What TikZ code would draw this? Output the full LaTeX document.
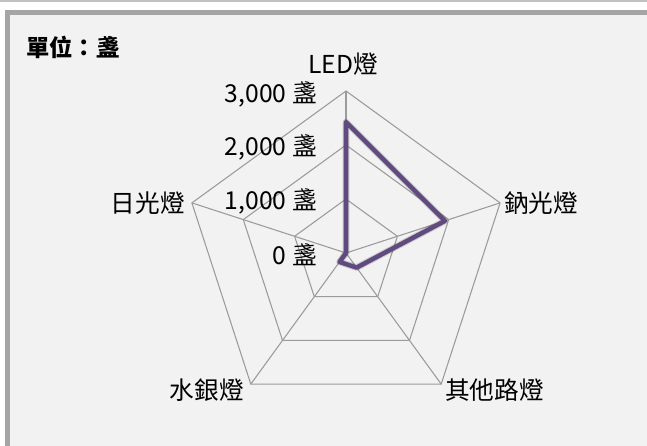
\documentclass[tikz,border=0pt]{standalone}
\usepackage{fontspec}
\setmainfont{Noto Sans CJK TC}
\usepackage{xcolor}

\begin{document}
\begin{tikzpicture}[x=0.75pt,y=0.75pt,yscale=-1,xscale=1,
  grid/.style={color={rgb, 255:red, 155; green, 155; blue, 155 }, line width=0.8pt},
  series/.style={color={rgb, 255:red, 96; green, 74; blue, 128 }, line width=3.4pt, line join=round},
  shade/.style={color=black, opacity=0.15, line width=5pt, line join=round},
  lbl/.style={inner sep=0.75pt, font=\fontsize{18.5}{22}\selectfont}]
\useasboundingbox (0,0) rectangle (647,446);

% Frame
\fill [white] (0,0) rectangle (647,446);
\fill [color={rgb, 255:red, 192; green, 192; blue, 192 }] (0,0) rectangle (647,2);
\fill [color={rgb, 255:red, 242; green, 242; blue, 242 }] (5,10) rectangle (647,446);
\fill [color={rgb, 255:red, 165; green, 165; blue, 165 }] (5,10) rectangle (647,15);
\fill [color={rgb, 255:red, 165; green, 165; blue, 165 }] (5,10) rectangle (10,446);

% Ring vertices (center 346,253)
\coordinate (c) at (346,253);
\coordinate (t1) at (346,199);   \coordinate (r1) at (397.4,236.3); \coordinate (br1) at (377.7,296.7); \coordinate (bl1) at (314.3,296.7); \coordinate (l1) at (294.6,236.3);
\coordinate (t2) at (346,145);   \coordinate (r2) at (448.7,219.6); \coordinate (br2) at (409.5,340.4); \coordinate (bl2) at (282.5,340.4); \coordinate (l2) at (243.3,219.6);
\coordinate (t3) at (346,91);    \coordinate (r3) at (500.1,202.9); \coordinate (br3) at (441.2,384.1); \coordinate (bl3) at (250.8,384.1); \coordinate (l3) at (191.9,202.9);

% Grid
\draw [grid] (t1) -- (r1) -- (br1) -- (bl1) -- (l1) -- cycle;
\draw [grid] (t2) -- (r2) -- (br2) -- (bl2) -- (l2) -- cycle;
\draw [grid] (t3) -- (r3) -- (br3) -- (bl3) -- (l3) -- cycle;
% Spokes
\draw [grid] (c) -- (t3);
\draw [grid] (c) -- (r3);
\draw [grid] (c) -- (br3);
\draw [grid] (c) -- (bl3);
\draw [grid] (c) -- (l3);

% Data points
\coordinate (dLED) at (346,122);
\coordinate (dNa) at (444.9,220.9);
\coordinate (dOther) at (356.6,267.6);
\coordinate (dHg) at (339.5,261.9);
\coordinate (dFl) at (346,253);

% Series shadow
\draw [shade, shift={(3,3)}] (dLED) -- (dNa) -- (dOther) -- (dHg) -- (dFl) -- cycle;
% Series
\draw [series] (dLED) -- (dNa) -- (dOther) -- (dHg) -- (dFl) -- cycle;

% Text Node
\node (title) [anchor=west, lbl, font=\fontsize{17.5}{20}\selectfont\bfseries] at (25,47) {單位：盞};
% Text Node
\node (tick3) [anchor=east, lbl] at (318,94) {3,000 盞};
\node (tick2) [anchor=east, lbl] at (318,147) {2,000 盞};
\node (tick1) [anchor=east, lbl] at (318,201) {1,000 盞};
\node (tick0) [anchor=east, lbl] at (318,255) {0 盞};
% Text Node
\node (axLED) [lbl] at (343,64) {LED燈};
\node (axNa) [anchor=west, lbl] at (503,203) {鈉光燈};
\node (axOther) [anchor=west, lbl] at (444,390) {其他路燈};
\node (axHg) [anchor=east, lbl] at (245,390) {水銀燈};
\node (axFl) [anchor=east, lbl] at (186,203) {日光燈};

\end{tikzpicture}
\end{document}
